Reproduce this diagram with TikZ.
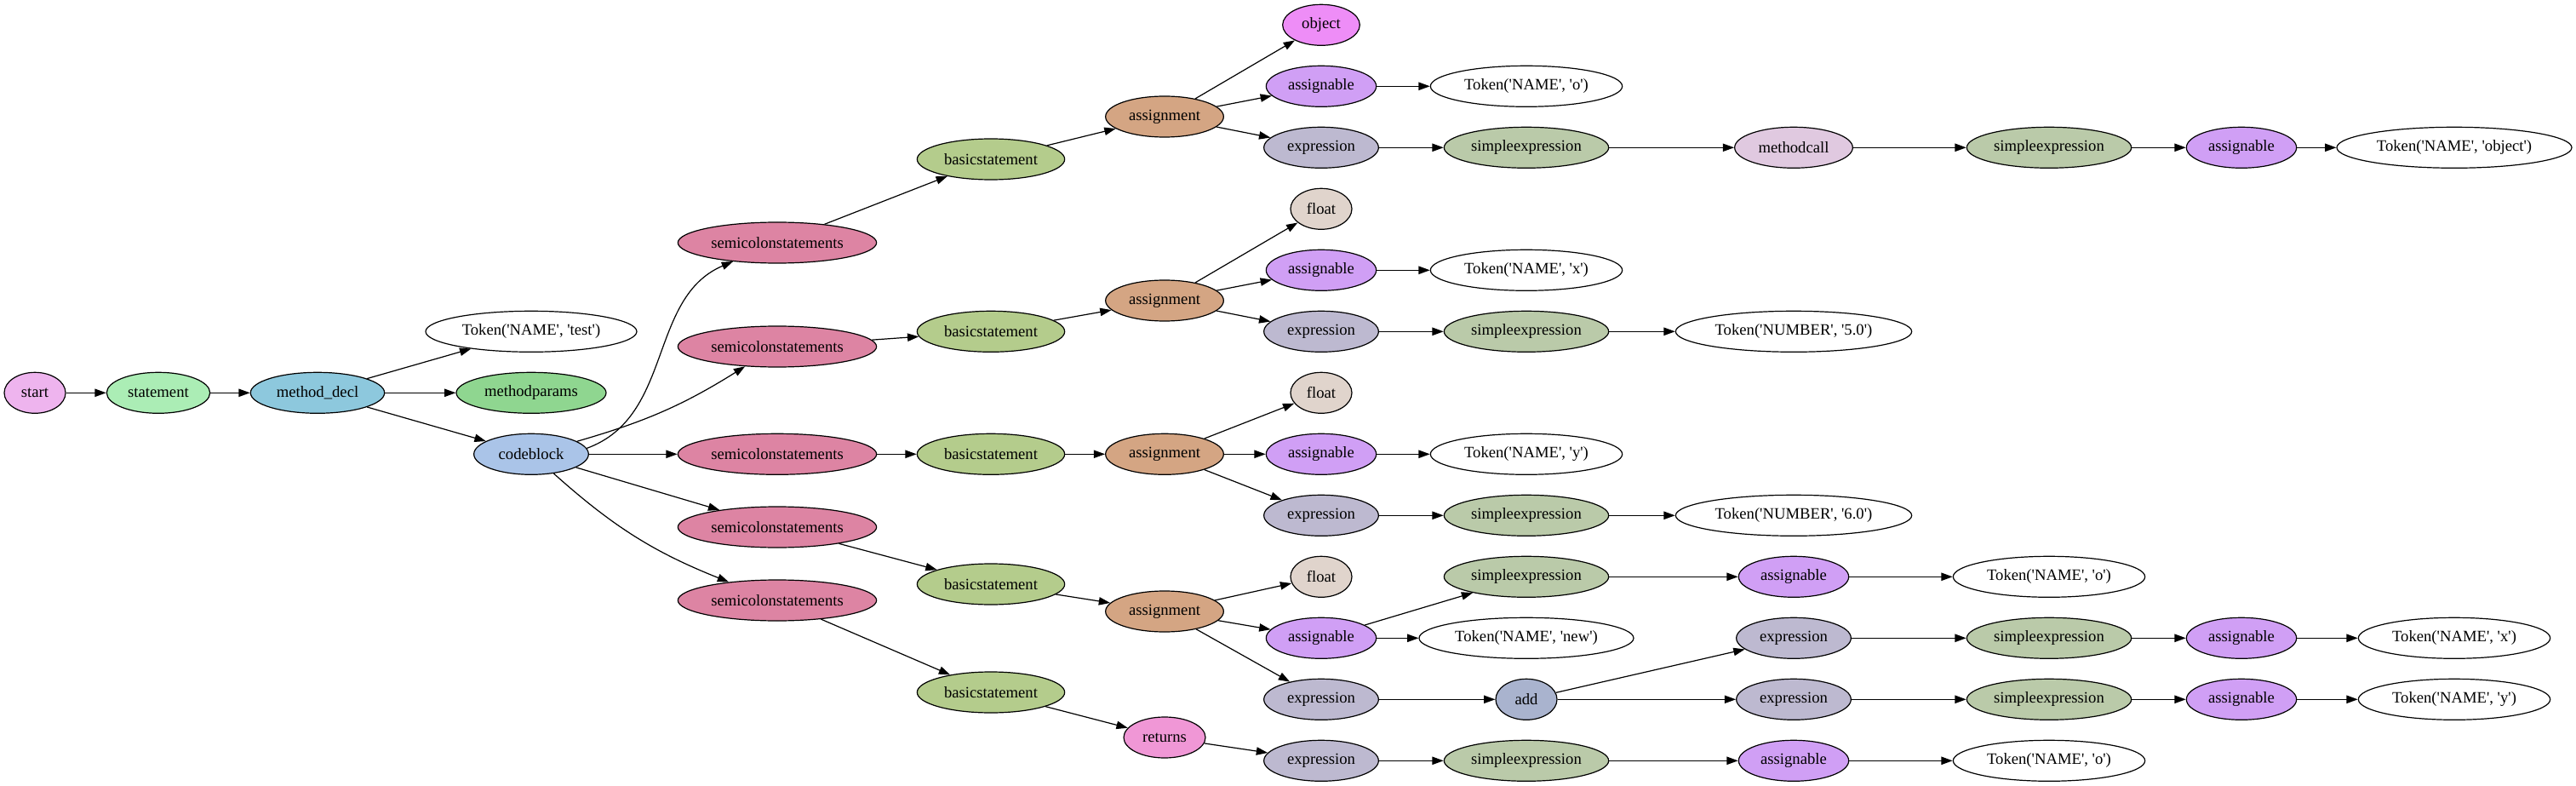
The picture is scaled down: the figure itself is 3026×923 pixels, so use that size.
\documentclass[tikz,border=0pt]{standalone}
\usepackage{fontspec}
\setmainfont{Liberation Serif}[Ligatures=TeXOff]
\usetikzlibrary{shapes.geometric,arrows.meta}
\definecolor{cStart}{HTML}{EEB4EE}
\definecolor{cStatement}{HTML}{ABEDB5}
\definecolor{cMdecl}{HTML}{8DC8DD}
\definecolor{cMparams}{HTML}{8FD690}
\definecolor{cCode}{HTML}{AAC4E8}
\definecolor{cSemi}{HTML}{DD84A3}
\definecolor{cBasic}{HTML}{B4CC8C}
\definecolor{cAssign}{HTML}{D4A583}
\definecolor{cObject}{HTML}{EE8DF7}
\definecolor{cAssignable}{HTML}{D09FF5}
\definecolor{cExpr}{HTML}{BDB9D0}
\definecolor{cFloat}{HTML}{E0D4CC}
\definecolor{cSimple}{HTML}{BACAA9}
\definecolor{cMcall}{HTML}{E0C9E0}
\definecolor{cAdd}{HTML}{A9B3CE}
\definecolor{cReturns}{HTML}{F097D6}
\tikzset{
  gv/.style={ellipse, draw, line width=0.9pt, inner xsep=2pt, inner ysep=2pt,
    minimum height=36pt, font=\fontsize{14pt}{16pt}\selectfont},
  edge/.style={line width=0.9pt, -{Triangle[length=10pt,width=7pt]}},
  tStart/.style={gv, fill=cStart, minimum width=54pt},
  tStatement/.style={gv, fill=cStatement, minimum width=91pt},
  tMdecl/.style={gv, fill=cMdecl, minimum width=118pt},
  tMparams/.style={gv, fill=cMparams, minimum width=132pt},
  tCode/.style={gv, fill=cCode, minimum width=101pt},
  tSemi/.style={gv, fill=cSemi, minimum width=175pt},
  tBasic/.style={gv, fill=cBasic, minimum width=130pt},
  tAssign/.style={gv, fill=cAssign, minimum width=104pt},
  tReturns/.style={gv, fill=cReturns, minimum width=72pt},
  tObject/.style={gv, fill=cObject, minimum width=68pt},
  tAssignable/.style={gv, fill=cAssignable, minimum width=97pt},
  tExpr/.style={gv, fill=cExpr, minimum width=101pt},
  tFloat/.style={gv, fill=cFloat, minimum width=54pt},
  tSimple/.style={gv, fill=cSimple, minimum width=145pt},
  tMcall/.style={gv, fill=cMcall, minimum width=104pt},
  tAdd/.style={gv, fill=cAdd, minimum width=54pt},
  tTok/.style={gv, fill=white, minimum width=169pt},
}
\begin{document}
\begin{tikzpicture}[x=0.75pt,y=-0.75pt]
\useasboundingbox (0,0) rectangle (3026,923);
% rank 0-3
\node[tStart] (start) at (41,461.3) {start};
\node[tStatement] (statement) at (186,461.3) {statement};
\node[tMdecl] (mdecl) at (373,461.3) {method\_decl};
\node[tTok, minimum width=186pt] (tktest) at (624,389.3) {Token('NAME', 'test')};
\node[tMparams] (mparams) at (624,461.3) {methodparams};
\node[tCode] (code) at (624,533.3) {codeblock};
% rank 4
\node[tSemi] (s1) at (913,285) {semicolonstatements};
\node[tSemi] (s2) at (913,407) {semicolonstatements};
\node[tSemi] (s3) at (913,533.3) {semicolonstatements};
\node[tSemi] (s4) at (913,619) {semicolonstatements};
\node[tSemi] (s5) at (913,705) {semicolonstatements};
% rank 5
\node[tBasic] (b1) at (1164,187) {basicstatement};
\node[tBasic] (b2) at (1164,389.3) {basicstatement};
\node[tBasic] (b3) at (1164,533.3) {basicstatement};
\node[tBasic] (b4) at (1164,686) {basicstatement};
\node[tBasic] (b5) at (1164,813) {basicstatement};
% rank 6
\node[tAssign] (a1) at (1368,137) {assignment};
\node[tAssign] (a2) at (1368,353) {assignment};
\node[tAssign] (a3) at (1368,533.3) {assignment};
\node[tAssign] (a4) at (1368,718) {assignment};
\node[tReturns] (ret) at (1368,866) {returns};
% rank 7
\node[tObject] (obj) at (1552,29.3) {object};
\node[tAssignable] (asg1) at (1552,101.3) {assignable};
\node[tExpr] (exp1) at (1552,173.3) {expression};
\node[tFloat] (fl2) at (1552,245.3) {float};
\node[tAssignable] (asg2) at (1552,317.3) {assignable};
\node[tExpr] (exp2) at (1552,389.3) {expression};
\node[tFloat] (fl3) at (1552,461.3) {float};
\node[tAssignable] (asg3) at (1552,533.3) {assignable};
\node[tExpr] (exp3) at (1552,605.3) {expression};
\node[tFloat] (fl4) at (1552,677.3) {float};
\node[tAssignable] (asg4) at (1552,749.3) {assignable};
\node[tExpr] (exp4) at (1552,821.3) {expression};
\node[tExpr] (exp5) at (1552,893.3) {expression};
% rank 8
\node[tTok] (tko1) at (1793,101.3) {Token('NAME', 'o')};
\node[tSimple] (se1) at (1793,173.3) {simpleexpression};
\node[tTok] (tkx) at (1793,317.3) {Token('NAME', 'x')};
\node[tSimple] (se2) at (1793,389.3) {simpleexpression};
\node[tTok] (tky) at (1793,533.3) {Token('NAME', 'y')};
\node[tSimple] (se3) at (1793,605.3) {simpleexpression};
\node[tSimple] (se4) at (1793,677.3) {simpleexpression};
\node[tTok, minimum width=189pt] (tknew) at (1793,749.3) {Token('NAME', 'new')};
\node[tAdd] (add) at (1793,821.3) {add};
\node[tSimple] (se5) at (1793,893.3) {simpleexpression};
% rank 9
\node[tMcall] (mc) at (2107,173.3) {methodcall};
\node[tTok, minimum width=208pt] (tk5) at (2107,389.3) {Token('NUMBER', '5.0')};
\node[tTok, minimum width=208pt] (tk6) at (2107,605.3) {Token('NUMBER', '6.0')};
\node[tAssignable] (asg9a) at (2107,677.3) {assignable};
\node[tExpr] (ex9a) at (2107,749.3) {expression};
\node[tExpr] (ex9b) at (2107,821.3) {expression};
\node[tAssignable] (asg9b) at (2107,893.3) {assignable};
% rank 10
\node[tSimple] (se10a) at (2407,173.3) {simpleexpression};
\node[tTok] (tko10a) at (2407,677.3) {Token('NAME', 'o')};
\node[tSimple] (se10b) at (2407,749.3) {simpleexpression};
\node[tSimple] (se10c) at (2407,821.3) {simpleexpression};
\node[tTok] (tko10b) at (2407,893.3) {Token('NAME', 'o')};
% rank 11
\node[tAssignable] (asg11a) at (2633,173.3) {assignable};
\node[tAssignable] (asg11b) at (2633,749.3) {assignable};
\node[tAssignable] (asg11c) at (2633,821.3) {assignable};
% rank 12
\node[tTok, minimum width=207pt] (tkobj) at (2883,173.3) {Token('NAME', 'object')};
\node[tTok] (tkx12) at (2883,749.3) {Token('NAME', 'x')};
\node[tTok] (tky12) at (2883,821.3) {Token('NAME', 'y')};
% edges
\draw[edge] (start) -- (statement);
\draw[edge] (statement) -- (mdecl);
\draw[edge] (mdecl) -- (tktest);
\draw[edge] (mdecl) -- (mparams);
\draw[edge] (mdecl) -- (code);
\draw[edge] (code.6) to[out=20,in=203] (s1);
\draw[edge] (code) to[bend right=8] (s2);
\draw[edge] (code) -- (s3);
\draw[edge] (code) -- (s4);
\draw[edge] (code) to[bend right=10] (s5);
\draw[edge] (s1) -- (b1);
\draw[edge] (s2) -- (b2);
\draw[edge] (s3) -- (b3);
\draw[edge] (s4) -- (b4);
\draw[edge] (s5) -- (b5);
\draw[edge] (b1) -- (a1);
\draw[edge] (b2) -- (a2);
\draw[edge] (b3) -- (a3);
\draw[edge] (b4) -- (a4);
\draw[edge] (b5) -- (ret);
\draw[edge] (a1) -- (obj);
\draw[edge] (a1) -- (asg1);
\draw[edge] (a1) -- (exp1);
\draw[edge] (a2) -- (fl2);
\draw[edge] (a2) -- (asg2);
\draw[edge] (a2) -- (exp2);
\draw[edge] (a3) -- (fl3);
\draw[edge] (a3) -- (asg3);
\draw[edge] (a3) -- (exp3);
\draw[edge] (a4) -- (fl4);
\draw[edge] (a4) -- (asg4);
\draw[edge] (a4) -- (exp4);
\draw[edge] (ret) -- (exp5);
\draw[edge] (asg1) -- (tko1);
\draw[edge] (exp1) -- (se1);
\draw[edge] (se1) -- (mc);
\draw[edge] (mc) -- (se10a);
\draw[edge] (se10a) -- (asg11a);
\draw[edge] (asg11a) -- (tkobj);
\draw[edge] (asg2) -- (tkx);
\draw[edge] (exp2) -- (se2);
\draw[edge] (se2) -- (tk5);
\draw[edge] (asg3) -- (tky);
\draw[edge] (exp3) -- (se3);
\draw[edge] (se3) -- (tk6);
\draw[edge] (asg4) -- (se4);
\draw[edge] (se4) -- (asg9a);
\draw[edge] (asg9a) -- (tko10a);
\draw[edge] (asg4) -- (tknew);
\draw[edge] (exp4) -- (add);
\draw[edge] (add) -- (ex9a);
\draw[edge] (add) -- (ex9b);
\draw[edge] (ex9a) -- (se10b);
\draw[edge] (se10b) -- (asg11b);
\draw[edge] (asg11b) -- (tkx12);
\draw[edge] (ex9b) -- (se10c);
\draw[edge] (se10c) -- (asg11c);
\draw[edge] (asg11c) -- (tky12);
\draw[edge] (exp5) -- (se5);
\draw[edge] (se5) -- (asg9b);
\draw[edge] (asg9b) -- (tko10b);
\end{tikzpicture}
\end{document}
